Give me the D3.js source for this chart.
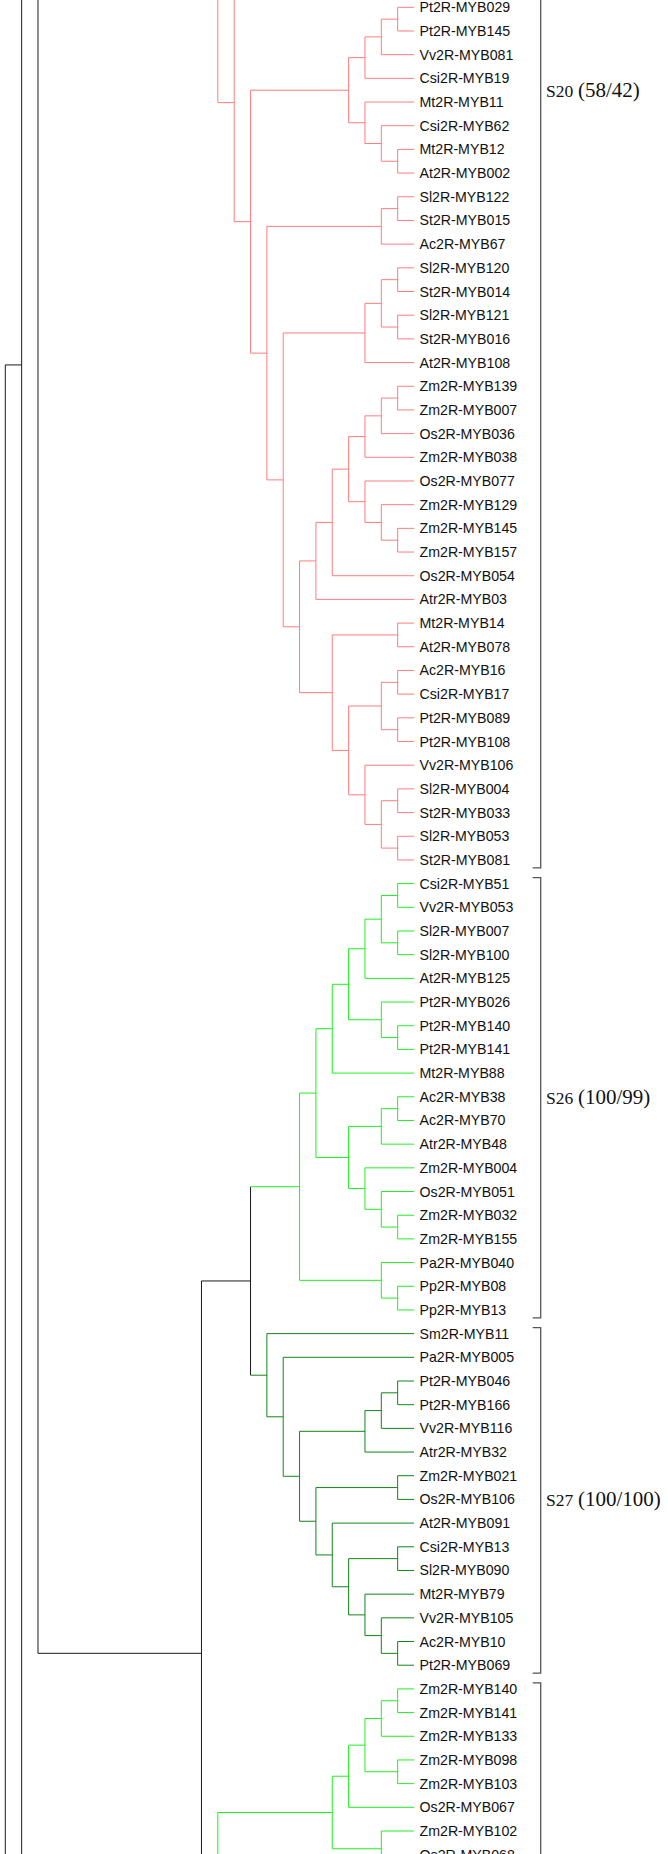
<!DOCTYPE html>
<html>
<head>
<meta charset="utf-8">
<script src="https://cdn.jsdelivr.net/npm/d3@7"></script>
<style>
	body { margin: 0; background: #fff; }
	svg { display: block; }
</style>
</head>
<body>
<div id="chart"></div>
<script>
// subtrees as nested pairs; a string is a gene, a number (or {row, h})
// is a branch that runs off the picture, given by its leaf row
var s20_top = [[[['Pt2R-MYB029', 'Pt2R-MYB145'], 'Vv2R-MYB081'], 'Csi2R-MYB19'],
	['Mt2R-MYB11', ['Csi2R-MYB62', ['Mt2R-MYB12', 'At2R-MYB002']]]];
var s20_sol = [['Sl2R-MYB122', 'St2R-MYB015'], 'Ac2R-MYB67'];
var s20_sol2 = [[['Sl2R-MYB120', 'St2R-MYB014'], ['Sl2R-MYB121', 'St2R-MYB016']], 'At2R-MYB108'];
var s20_mono = [[[[[['Zm2R-MYB139', 'Zm2R-MYB007'], 'Os2R-MYB036'], 'Zm2R-MYB038'],
	['Os2R-MYB077', ['Zm2R-MYB129', ['Zm2R-MYB145', 'Zm2R-MYB157']]]], 'Os2R-MYB054'], 'Atr2R-MYB03'];
var s20_eudi = [['Mt2R-MYB14', 'At2R-MYB078'],
	[[['Ac2R-MYB16', 'Csi2R-MYB17'], ['Pt2R-MYB089', 'Pt2R-MYB108']],
	 ['Vv2R-MYB106', [['Sl2R-MYB004', 'St2R-MYB033'], ['Sl2R-MYB053', 'St2R-MYB081']]]]];
var s20_tree = [-14, [-1, [s20_top, [s20_sol, [s20_sol2, [s20_mono, s20_eudi]]]]]];

var s26_tree = [
	[[[[[['Csi2R-MYB51', 'Vv2R-MYB053'], ['Sl2R-MYB007', 'Sl2R-MYB100']], 'At2R-MYB125'],
		['Pt2R-MYB026', ['Pt2R-MYB140', 'Pt2R-MYB141']]], 'Mt2R-MYB88'],
	 [[['Ac2R-MYB38', 'Ac2R-MYB70'], 'Atr2R-MYB48'],
		['Zm2R-MYB004', ['Os2R-MYB051', ['Zm2R-MYB032', 'Zm2R-MYB155']]]]],
	['Pa2R-MYB040', ['Pp2R-MYB08', 'Pp2R-MYB13']]];

var s27_tree = ['Sm2R-MYB11', ['Pa2R-MYB005', [
	[[['Pt2R-MYB046', 'Pt2R-MYB166'], 'Vv2R-MYB116'], 'Atr2R-MYB32'],
	[['Zm2R-MYB021', 'Os2R-MYB106'],
	 ['At2R-MYB091', [['Csi2R-MYB13', 'Sl2R-MYB090'],
		['Mt2R-MYB79', ['Vv2R-MYB105', ['Ac2R-MYB10', 'Pt2R-MYB069']]]]]]]]];

var low_tree = [[[[['Zm2R-MYB140', 'Zm2R-MYB141'], 'Zm2R-MYB133'], ['Zm2R-MYB098', 'Zm2R-MYB103']], 'Os2R-MYB067'],
	['Zm2R-MYB102', ['Os2R-MYB068', 79]]];

// backbone (black) joining the clades
var main_tree = [[[{ row: -200, h: 22 }, [[s26_tree, s27_tree], [low_tree, { row: 94.22, h: 11 }]]], 95.45], 150];

var clade_names   = ['S20', 'S26', 'S27', ''];
var clade_support = ['(58/42)', '(100/99)', '(100/100)', ''];
var clade_trees   = [s20_tree, s26_tree, s27_tree, low_tree];
var clade_rows    = [[-29, 36], [37, 55], [56, 70], [71, 94]];
var clade_colors  = ['#ff7c7c', '#1ff01f', '#10851a', '#1ff01f'];

var chart_width = 668;
var chart_height = 1854;

var svg = d3.select('#chart')
	.append('svg')
	.attr('width', chart_width)
	.attr('height', chart_height);

// scales: rows of leaves down, node height (cladogram) across
var y_scale = d3.scaleLinear().domain([0, 77]).range([7.3, 1831]);
var x_scale = d3.scaleLinear().domain([25, 0]).range([5.3, 414]);

// which clade a gene belongs to
var clade_of = {};
function flatten(t, out) {
	if (Array.isArray(t)) t.forEach(function(c){ flatten(c, out); });
	else if (typeof t === 'string') out.push(t);
	return out;
}
clade_trees.forEach(function(t, i){
	flatten(t, []).forEach(function(n){ clade_of[n] = i; });
});

var next_row = 0;
var roots = [s20_tree, main_tree].map(function(t){
	var root = d3.hierarchy(t, function(d){ return Array.isArray(d) ? d : null; });
	root.leaves().forEach(function(l){
		if (typeof l.data === 'string') l.row = next_row++;
		else if (typeof l.data === 'number') l.row = l.data;
		else l.row = l.data.row;
	});
	root.eachAfter(function(node){
		if (!node.children) {
			node.h = (typeof node.data === 'object' && node.data.h) || 0;
			node.clade = typeof node.data === 'string' ? clade_of[node.data] : undefined;
			return;
		}
		node.h = 1 + d3.max(node.children, function(c){ return c.h; });
		node.row = d3.mean(node.children, function(c){ return c.row; });
		var cl = node.children.map(function(c){ return c.clade; })
			.filter(function(c){ return c !== undefined; });
		if (cl.length && cl.every(function(c){ return c === cl[0]; })) node.clade = cl[0];
		else if (cl.length) node.clade = -1;
	});
	return root;
});

function color(node) {
	return node.clade >= 0 ? clade_colors[node.clade] : '#1a1a1a';
}

var nodes = [];
roots.forEach(function(r){ nodes = nodes.concat(r.descendants()); });
var inner = nodes.filter(function(d){ return d.children; });
var linked = nodes.filter(function(d){ return d.parent; });

var g = svg.append('g').attr('class', 'tree');

// vertical bars of each node
g.selectAll('line.v')
	.data(inner)
	.enter()
	.append('line')
	.attr('class', 'v')
	.attr('x1', function(d){ return x_scale(d.h); })
	.attr('x2', function(d){ return x_scale(d.h); })
	.attr('y1', function(d){ return y_scale(d3.min(d.children, function(c){ return c.row; })); })
	.attr('y2', function(d){ return y_scale(d3.max(d.children, function(c){ return c.row; })); })
	.attr('stroke', color)
	.attr('stroke-width', 1);

// horizontal branches
g.selectAll('line.h')
	.data(linked)
	.enter()
	.append('line')
	.attr('class', 'h')
	.attr('x1', function(d){ return x_scale(d.parent.h); })
	.attr('x2', function(d){ return x_scale(d.h); })
	.attr('y1', function(d){ return y_scale(d.row); })
	.attr('y2', function(d){ return y_scale(d.row); })
	.attr('stroke', color)
	.attr('stroke-width', 1);

// gene labels
g.selectAll('text.leaf')
	.data(nodes.filter(function(d){ return typeof d.data === 'string'; }))
	.enter()
	.append('text')
	.attr('class', 'leaf')
	.attr('x', x_scale(0) + 5.5)
	.attr('y', function(d){ return y_scale(d.row) + 5; })
	.attr('font-family', 'Liberation Sans, Arial, sans-serif')
	.attr('font-size', 14.2)
	.attr('fill', '#111')
	.text(function(d){ return d.data; });

// clade brackets
var bx = 540.7;
var br = svg.append('g').attr('class', 'brackets')
	.selectAll('g')
	.data(clade_rows)
	.enter()
	.append('g');

br.append('path')
	.attr('d', function(d){
		var y1 = y_scale(d[0]) - 6, y2 = y_scale(d[1]) + 8;
		return 'M' + (bx - 8) + ',' + y1 + 'H' + bx + 'V' + y2 + 'H' + (bx - 8);
	})
	.attr('fill', 'none')
	.attr('stroke', '#555')
	.attr('stroke-width', 1.3);

var lab = br.append('text')
	.attr('y', function(d){ return (y_scale(d[0]) - 6 + y_scale(d[1]) + 8) / 2 + 6; })
	.attr('font-family', 'Liberation Serif, Times New Roman, serif')
	.attr('fill', '#111');

lab.append('tspan')
	.attr('x', 546)
	.attr('font-size', 17.5)
	.text(function(d, i){ return clade_names[i]; });

lab.append('tspan')
	.attr('x', 578)
	.attr('font-size', 21)
	.text(function(d, i){ return clade_support[i]; });
</script>
</body>
</html>
